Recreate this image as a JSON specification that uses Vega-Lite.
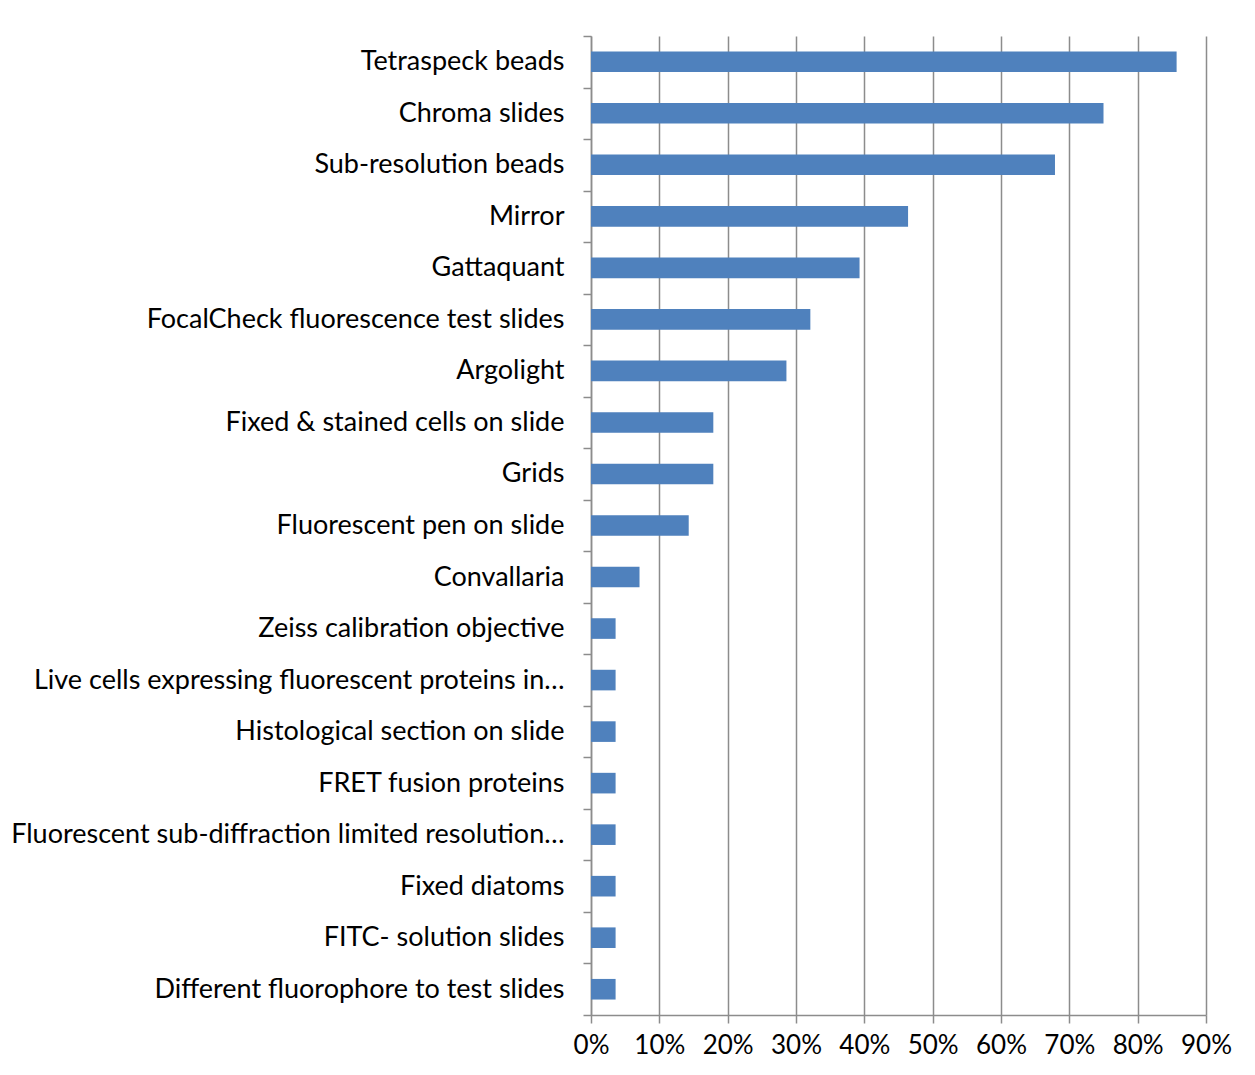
{
  "$schema": "https://vega.github.io/schema/vega-lite/v6.json",
  "width": 615,
  "height": 979,
  "autosize": {"type": "none"},
  "padding": {"left": 591, "top": 36, "right": 49, "bottom": 60},
  "background": "white",
  "config": {"view": {"stroke": null}, "font": "Lato"},
  "data": {
    "values": [
      {"item": "Tetraspeck beads", "pct": 0.857},
      {"item": "Chroma slides", "pct": 0.75},
      {"item": "Sub-resolution beads", "pct": 0.679},
      {"item": "Mirror", "pct": 0.464},
      {"item": "Gattaquant", "pct": 0.393},
      {"item": "FocalCheck fluorescence test slides", "pct": 0.321},
      {"item": "Argolight", "pct": 0.286},
      {"item": "Fixed & stained cells on slide", "pct": 0.179},
      {"item": "Grids", "pct": 0.179},
      {"item": "Fluorescent pen on slide", "pct": 0.143},
      {"item": "Convallaria", "pct": 0.071},
      {"item": "Zeiss calibration objective", "pct": 0.036},
      {"item": "Live cells expressing fluorescent proteins in…", "pct": 0.036},
      {"item": "Histological section on slide", "pct": 0.036},
      {"item": "FRET fusion proteins", "pct": 0.036},
      {"item": "Fluorescent sub-diffraction limited resolution…", "pct": 0.036},
      {"item": "Fixed diatoms", "pct": 0.036},
      {"item": "FITC- solution slides", "pct": 0.036},
      {"item": "Different fluorophore to test slides", "pct": 0.036}
    ]
  },
  "mark": {"type": "bar", "color": "#4F81BD", "height": {"band": 0.4}},
  "encoding": {
    "y": {
      "field": "item",
      "type": "nominal",
      "sort": null,
      "scale": {"paddingInner": 0, "paddingOuter": 0},
      "axis": {
        "title": null,
        "tickBand": "extent",
        "tickSize": 8,
        "tickColor": "#8C8C8C",
        "tickWidth": 1.5,
        "domainColor": "#8C8C8C",
        "domainWidth": 1.5,
        "labelPadding": 19,
        "labelFontSize": 27,
        "labelColor": "black",
        "labelLimit": 0,
        "grid": false
      }
    },
    "x": {
      "field": "pct",
      "type": "quantitative",
      "scale": {"domain": [0, 0.9], "nice": false},
      "axis": {
        "title": null,
        "format": ".0%",
        "values": [0, 0.1, 0.2, 0.3, 0.4, 0.5, 0.6, 0.7, 0.8, 0.9],
        "grid": true,
        "gridColor": "#8C8C8C",
        "gridWidth": 1.5,
        "tickSize": 8,
        "tickColor": "#8C8C8C",
        "tickWidth": 1.5,
        "domainColor": "#8C8C8C",
        "domainWidth": 1.5,
        "labelPadding": 9,
        "labelFontSize": 26,
        "labelOverlap": false,
        "labelFlush": false,
        "labelColor": "black"
      }
    }
  }
}
